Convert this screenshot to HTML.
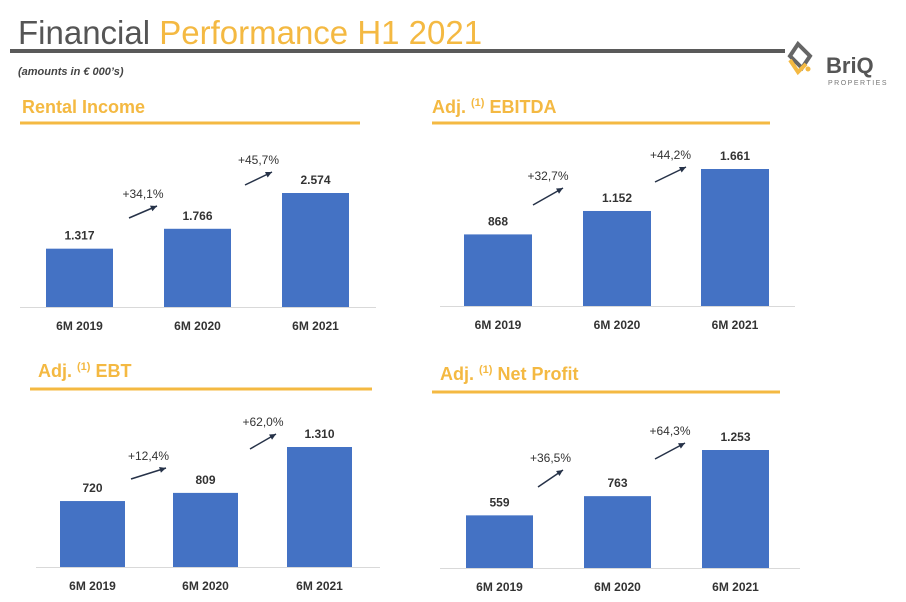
<!DOCTYPE html>
<html><head><meta charset="utf-8"><style>
body{margin:0;width:906px;height:602px;background:#fff;font-family:"Liberation Sans",sans-serif;overflow:hidden;position:relative}
.t{position:absolute;white-space:nowrap}
</style></head><body>
<div class="t" style="left:18px;top:14px;font-size:33px;color:#555;letter-spacing:0px">Financial <span style="color:#F4B942">Performance H1 2021</span></div>
<div style="position:absolute;left:10px;top:49px;width:775px;height:4px;background:#5a5a5a"></div>
<div class="t" style="left:18px;top:66px;font-size:11px;font-style:italic;font-weight:bold;color:#444">(amounts in € 000’s)</div>
<svg style="position:absolute;left:786px;top:38px" width="115" height="50">
<path d="M12 6 L24 18 L16 30 L4 18 Z" fill="none" stroke="#666" stroke-width="4"/>
<path d="M4 22 L12 34 L20 26" fill="none" stroke="#F4B942" stroke-width="4"/>
<circle cx="22" cy="31" r="2.5" fill="#F4B942"/>
<text x="40" y="35" font-size="22" font-weight="bold" fill="#555" font-family="Liberation Sans">BriQ</text>
<text x="42" y="47" font-size="7" fill="#777" letter-spacing="1.5" font-family="Liberation Sans">PROPERTIES</text>
</svg>
<svg id="c" width="906" height="602" style="position:absolute;left:0;top:0"></svg>
<script>
const categories=["6M 2019","6M 2020","6M 2021"];
const rentalValues=[1317,1766,2574];
const ebitdaValues=[868,1152,1661];
const ebtValues=[720,809,1310];
const netValues=[559,763,1253];
const rentalLabels=["1.317","1.766","2.574"];
const ebitdaLabels=["868","1.152","1.661"];
const ebtLabels=["720","809","1.310"];
const netLabels=["559","763","1.253"];
const rentalGrowth=["+34,1%","+45,7%"];
const ebitdaGrowth=["+32,7%","+44,2%"];
const ebtGrowth=["+12,4%","+62,0%"];
const netGrowth=["+36,5%","+64,3%"];
const svg=document.getElementById('c');
const NS='http://www.w3.org/2000/svg';
function mk(tag,attrs,parent){const e=document.createElementNS(NS,tag);for(const k in attrs)e.setAttribute(k,attrs[k]);(parent||svg).appendChild(e);return e;}
const charts=[
 {name:'rental-income',title:'Rental Income',sup:false,tx:22,ty:113,rule:[20,360,123],base:307,scale:114/2574,xs:[46,164,282],bw:67,axis:[20,376],vals:rentalValues,labs:rentalLabels,gr:rentalGrowth,arr:[[129,218,157,206],[245,185,272,172]]},
 {name:'adj-ebitda',title:'EBITDA',sup:true,tx:432,ty:113,rule:[432,770,123],base:306,scale:137/1661,xs:[464,583,701],bw:68,axis:[440,795],vals:ebitdaValues,labs:ebitdaLabels,gr:ebitdaGrowth,arr:[[533,205,563,188],[655,182,686,167]]},
 {name:'adj-ebt',title:'EBT',sup:true,tx:38,ty:377,rule:[30,372,389],base:567,scale:120/1310,xs:[60,173,287],bw:65,axis:[36,380],vals:ebtValues,labs:ebtLabels,gr:ebtGrowth,arr:[[131,479,166,468],[250,449,276,434]]},
 {name:'adj-net-profit',title:'Net Profit',sup:true,tx:440,ty:380,rule:[432,780,392],base:568,scale:118/1253,xs:[466,584,702],bw:67,axis:[440,800],vals:netValues,labs:netLabels,gr:netGrowth,arr:[[538,487,563,470],[655,459,685,443]]}
];
charts.forEach(c=>{
 const g=mk('g',{});
 
 
 const t=mk('text',{x:c.tx,y:c.ty,'font-size':18,'font-weight':'bold',fill:'#F4B942','font-family':'Liberation Sans'},g);
 
 
 if(c.sup){t.innerHTML='Adj. <tspan font-size="11" dy="-7">(1)</tspan><tspan dy="7"> '+c.title+'</tspan>';}else t.textContent=c.title;
 const r=mk('rect',{x:c.rule[0],y:c.rule[2]-1.5,width:c.rule[1]-c.rule[0],height:3,fill:'#F4B942'},g);
 
 
 const ax=mk('line',{x1:c.axis[0],x2:c.axis[1],y1:c.base+0.5,y2:c.base+0.5,stroke:'#d9d9d9','stroke-width':1},g);
 
 
 c.vals.forEach((v,i)=>{
  const h=v*c.scale;
  const b=mk('rect',{x:c.xs[i],y:c.base-h,width:c.bw,height:h,fill:'#4472C4'},g);
  
  
  const l=mk('text',{x:c.xs[i]+c.bw/2,y:c.base-h-9,'text-anchor':'middle','font-size':12,'font-weight':'bold',fill:'#333'},g);
  l.textContent=c.labs[i];
  
  
  const cl=mk('text',{x:c.xs[i]+c.bw/2,y:c.base+23,'text-anchor':'middle','font-size':12,'font-weight':'bold',fill:'#333'},g);
  cl.textContent=categories[i];
  
  
 });
 c.arr.forEach((a,i)=>{
  const ln=mk('line',{x1:a[0],y1:a[1],x2:a[2],y2:a[3],stroke:'#263248','stroke-width':1.5},g);
  
  
  const ang=Math.atan2(a[3]-a[1],a[2]-a[0]);
  const p=(d,o)=>[a[2]-7*Math.cos(ang+o),a[3]-7*Math.sin(ang+o)];
  const p1=p(7,0.45),p2=p(7,-0.45);
  mk('polygon',{points:`${a[2]},${a[3]} ${p1[0]},${p1[1]} ${p2[0]},${p2[1]}`,fill:'#263248'},g);
  const gl=mk('text',{x:(a[0]+a[2])/2,y:Math.min(a[1],a[3])-8,'text-anchor':'middle','font-size':12,fill:'#333'},g);
  gl.textContent=c.gr[i];
  
  
 });
});
</script>
</body></html>
